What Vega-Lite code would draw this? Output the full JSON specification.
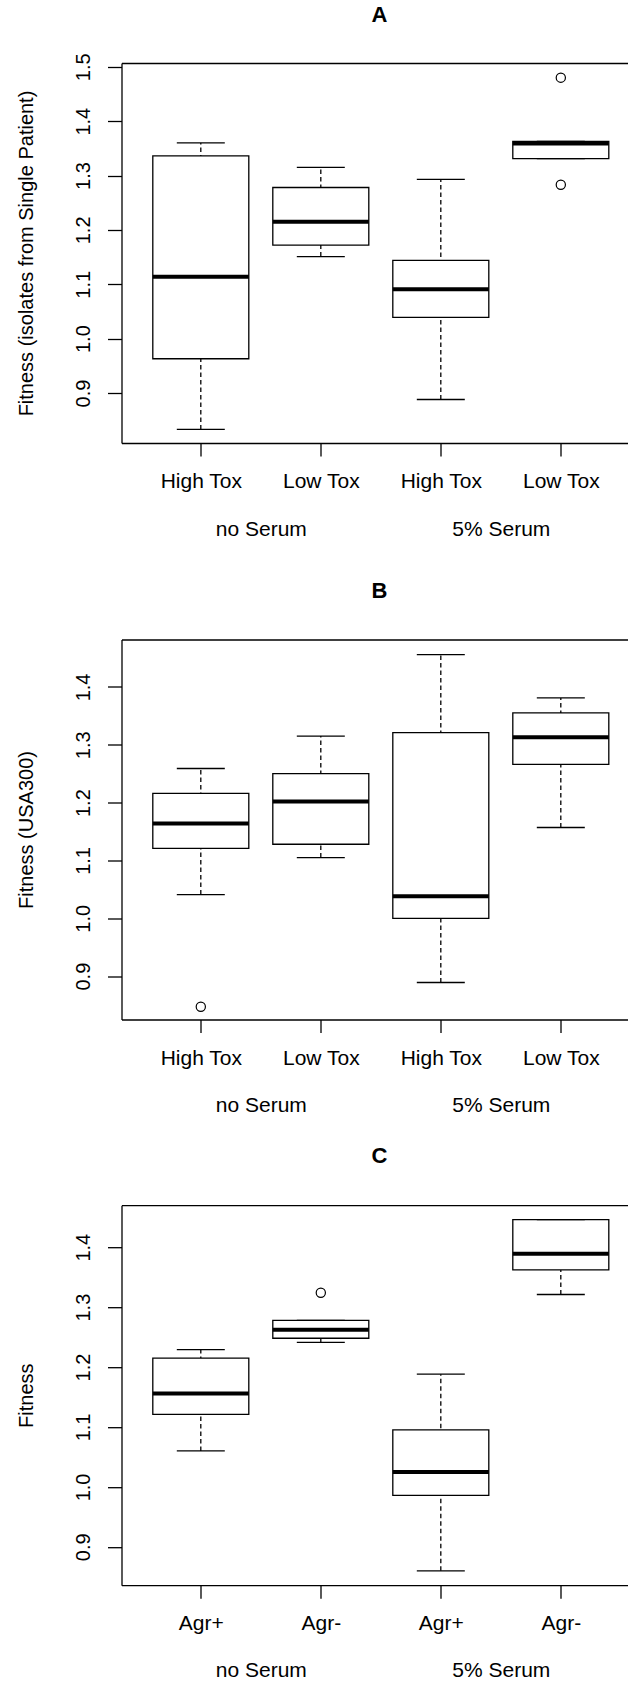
{
  "$schema": "https://vega.github.io/schema/vega-lite/v6.json",
  "padding": {"left": 15.5, "top": 4, "right": 0, "bottom": 98},
  "background": "white",
  "datasets": {
    "A_box": [
      {"serum": "no Serum", "key": "no Serum|High Tox", "lo": 0.833, "q1": 0.963, "med": 1.114, "q3": 1.336, "hi": 1.360},
      {"serum": "no Serum", "key": "no Serum|Low Tox", "lo": 1.151, "q1": 1.172, "med": 1.215, "q3": 1.278, "hi": 1.315},
      {"serum": "5% Serum", "key": "5% Serum|High Tox", "lo": 0.888, "q1": 1.039, "med": 1.091, "q3": 1.144, "hi": 1.293},
      {"serum": "5% Serum", "key": "5% Serum|Low Tox", "lo": 1.331, "q1": 1.331, "med": 1.359, "q3": 1.363, "hi": 1.363}
    ],
    "A_out": [
      {"key": "5% Serum|Low Tox", "value": 1.480},
      {"key": "5% Serum|Low Tox", "value": 1.283}
    ],
    "B_box": [
      {"serum": "no Serum", "key": "no Serum|High Tox", "lo": 1.041, "q1": 1.121, "med": 1.164, "q3": 1.216, "hi": 1.259},
      {"serum": "no Serum", "key": "no Serum|Low Tox", "lo": 1.105, "q1": 1.128, "med": 1.202, "q3": 1.250, "hi": 1.315},
      {"serum": "5% Serum", "key": "5% Serum|High Tox", "lo": 0.889, "q1": 1.000, "med": 1.038, "q3": 1.321, "hi": 1.456},
      {"serum": "5% Serum", "key": "5% Serum|Low Tox", "lo": 1.157, "q1": 1.266, "med": 1.313, "q3": 1.355, "hi": 1.381}
    ],
    "B_out": [
      {"key": "no Serum|High Tox", "value": 0.847}
    ],
    "C_box": [
      {"serum": "no Serum", "key": "no Serum|Agr+", "lo": 1.060, "q1": 1.121, "med": 1.156, "q3": 1.215, "hi": 1.229},
      {"serum": "no Serum", "key": "no Serum|Agr-", "lo": 1.241, "q1": 1.248, "med": 1.262, "q3": 1.278, "hi": 1.278},
      {"serum": "5% Serum", "key": "5% Serum|Agr+", "lo": 0.860, "q1": 0.986, "med": 1.025, "q3": 1.095, "hi": 1.188},
      {"serum": "5% Serum", "key": "5% Serum|Agr-", "lo": 1.321, "q1": 1.362, "med": 1.389, "q3": 1.446, "hi": 1.446}
    ],
    "C_out": [
      {"key": "no Serum|Agr-", "value": 1.324}
    ]
  },
  "spacing": 196.5,
  "bounds": "flush",
  "vconcat": [
    {
      "title": {"text": "A", "offset": 8.9, "baseline": "alphabetic", "frame": "group", "anchor": "middle", "dx": 5},
      "width": 506,
      "height": 380,
      "layer": [
        {
          "data": {"name": "A_box"},
          "encoding": {
            "x": {
              "field": "key", "type": "nominal",
              "scale": {"type": "point", "domain": ["no Serum|High Tox", "no Serum|Low Tox", "5% Serum|High Tox", "5% Serum|Low Tox"], "padding": 0.6083, "align": 0.5432},
              "axis": {"orient": "bottom", "title": null, "tickSize": 13, "labelPadding": 31.5, "labelBaseline": "alphabetic", "labelAngle": 0, "labelExpr": "split(datum.label, '|')[1]"}
            }
          },
          "layer": [
            {
              "mark": {"type": "rule", "color": "black", "strokeWidth": 1.3, "strokeDash": [4.5, 3]},
              "encoding": {
                "y": {
                  "field": "lo", "type": "quantitative",
                  "scale": {"domain": [0.808, 1.507], "zero": false, "nice": false},
                  "axis": {"orient": "left", "values": [0.9, 1.0, 1.1, 1.2, 1.3, 1.4, 1.5], "format": ".1f", "labelAngle": -90, "labelAlign": "center", "labelBaseline": "alphabetic", "labelPadding": 18.2, "tickSize": 14, "title": "Fitness (isolates from Single Patient)", "titleX": -89.2, "titleY": 190, "titleAngle": -90, "titleAlign": "center", "titleBaseline": "alphabetic"}
                },
                "y2": {"field": "hi"}
              }
            },
            {
              "mark": {"type": "bar", "size": 96, "fill": "white", "stroke": "black", "strokeWidth": 1.3},
              "encoding": {
                "y": {"field": "q1", "type": "quantitative"},
                "y2": {"field": "q3"}
              }
            },
            {
              "mark": {"type": "tick", "size": 96, "thickness": 4, "color": "black", "opacity": 1},
              "encoding": {"y": {"field": "med", "type": "quantitative"}}
            },
            {
              "mark": {"type": "tick", "size": 48, "thickness": 1.3, "color": "black", "opacity": 1},
              "encoding": {"y": {"field": "hi", "type": "quantitative"}}
            },
            {
              "mark": {"type": "tick", "size": 48, "thickness": 1.3, "color": "black", "opacity": 1},
              "encoding": {"y": {"field": "lo", "type": "quantitative"}}
            },
            {
              "data": {"name": "A_out"},
              "mark": {"type": "point", "shape": "circle", "filled": false, "size": 85, "stroke": "black", "strokeWidth": 1.2, "opacity": 1},
              "encoding": {"y": {"field": "value", "type": "quantitative"}}
            }
          ]
        },
        {
          "data": {"name": "A_box"},
          "mark": {"type": "point", "opacity": 0},
          "encoding": {
            "x": {
              "field": "serum", "type": "nominal",
              "scale": {"type": "point", "domain": ["no Serum", "5% Serum"], "padding": 0.5542, "align": 0.5237},
              "axis": {"orient": "bottom", "title": null, "domain": false, "ticks": false, "tickSize": 0, "labelPadding": 92.2, "labelBaseline": "alphabetic", "labelAngle": 0}
            },
            "y": {"field": "med", "type": "quantitative"}
          }
        },
        {
          "data": {"name": "A_box"},
          "mark": {"type": "point", "opacity": 0},
          "encoding": {
            "x": {
              "field": "serum", "type": "nominal",
              "scale": {"type": "point", "domain": ["no Serum", "5% Serum"]},
              "axis": {"orient": "top", "title": null, "domain": true, "ticks": false, "labels": false}
            },
            "y": {"field": "med", "type": "quantitative"}
          }
        }
      ],
      "resolve": {"scale": {"x": "independent"}, "axis": {"x": "independent"}}
    },
    {
      "spacing": 185.7,
      "bounds": "flush",
      "vconcat": [
        {
          "title": {"text": "B", "offset": 19.5, "baseline": "alphabetic", "frame": "group", "anchor": "middle", "dx": 5},
          "width": 506,
          "height": 380,
          "layer": [
            {
              "data": {"name": "B_box"},
              "encoding": {
                "x": {
                  "field": "key", "type": "nominal",
                  "scale": {"type": "point", "domain": ["no Serum|High Tox", "no Serum|Low Tox", "5% Serum|High Tox", "5% Serum|Low Tox"], "padding": 0.6083, "align": 0.5432},
                  "axis": {"orient": "bottom", "title": null, "tickSize": 13, "labelPadding": 31.5, "labelBaseline": "alphabetic", "labelAngle": 0, "labelExpr": "split(datum.label, '|')[1]"}
                }
              },
              "layer": [
                {
                  "mark": {"type": "rule", "color": "black", "strokeWidth": 1.3, "strokeDash": [4.5, 3]},
                  "encoding": {
                    "y": {
                      "field": "lo", "type": "quantitative",
                      "scale": {"domain": [0.825, 1.482], "zero": false, "nice": false},
                      "axis": {"orient": "left", "values": [0.9, 1.0, 1.1, 1.2, 1.3, 1.4], "format": ".1f", "labelAngle": -90, "labelAlign": "center", "labelBaseline": "alphabetic", "labelPadding": 18.2, "tickSize": 14, "title": "Fitness (USA300)", "titleX": -89.2, "titleY": 190, "titleAngle": -90, "titleAlign": "center", "titleBaseline": "alphabetic"}
                    },
                    "y2": {"field": "hi"}
                  }
                },
                {
                  "mark": {"type": "bar", "size": 96, "fill": "white", "stroke": "black", "strokeWidth": 1.3},
                  "encoding": {
                    "y": {"field": "q1", "type": "quantitative"},
                    "y2": {"field": "q3"}
                  }
                },
                {
                  "mark": {"type": "tick", "size": 96, "thickness": 4, "color": "black", "opacity": 1},
                  "encoding": {"y": {"field": "med", "type": "quantitative"}}
                },
                {
                  "mark": {"type": "tick", "size": 48, "thickness": 1.3, "color": "black", "opacity": 1},
                  "encoding": {"y": {"field": "hi", "type": "quantitative"}}
                },
                {
                  "mark": {"type": "tick", "size": 48, "thickness": 1.3, "color": "black", "opacity": 1},
                  "encoding": {"y": {"field": "lo", "type": "quantitative"}}
                },
                {
                  "data": {"name": "B_out"},
                  "mark": {"type": "point", "shape": "circle", "filled": false, "size": 85, "stroke": "black", "strokeWidth": 1.2, "opacity": 1},
                  "encoding": {"y": {"field": "value", "type": "quantitative"}}
                }
              ]
            },
            {
              "data": {"name": "B_box"},
              "mark": {"type": "point", "opacity": 0},
              "encoding": {
                "x": {
                  "field": "serum", "type": "nominal",
                  "scale": {"type": "point", "domain": ["no Serum", "5% Serum"], "padding": 0.5542, "align": 0.5237},
                  "axis": {"orient": "bottom", "title": null, "domain": false, "ticks": false, "tickSize": 0, "labelPadding": 92.2, "labelBaseline": "alphabetic", "labelAngle": 0}
                },
                "y": {"field": "med", "type": "quantitative"}
              }
            },
            {
              "data": {"name": "B_box"},
              "mark": {"type": "point", "opacity": 0},
              "encoding": {
                "x": {
                  "field": "serum", "type": "nominal",
                  "scale": {"type": "point", "domain": ["no Serum", "5% Serum"]},
                  "axis": {"orient": "top", "title": null, "domain": true, "ticks": false, "labels": false}
                },
                "y": {"field": "med", "type": "quantitative"}
              }
            }
          ],
          "resolve": {"scale": {"x": "independent"}, "axis": {"x": "independent"}}
        },
        {
          "title": {"text": "C", "offset": 20.2, "baseline": "alphabetic", "frame": "group", "anchor": "middle", "dx": 5},
          "width": 506,
          "height": 380,
          "layer": [
            {
              "data": {"name": "C_box"},
              "encoding": {
                "x": {
                  "field": "key", "type": "nominal",
                  "scale": {"type": "point", "domain": ["no Serum|Agr+", "no Serum|Agr-", "5% Serum|Agr+", "5% Serum|Agr-"], "padding": 0.6083, "align": 0.5432},
                  "axis": {"orient": "bottom", "title": null, "tickSize": 13, "labelPadding": 31.5, "labelBaseline": "alphabetic", "labelAngle": 0, "labelExpr": "split(datum.label, '|')[1]"}
                }
              },
              "layer": [
                {
                  "mark": {"type": "rule", "color": "black", "strokeWidth": 1.3, "strokeDash": [4.5, 3]},
                  "encoding": {
                    "y": {
                      "field": "lo", "type": "quantitative",
                      "scale": {"domain": [0.836, 1.470], "zero": false, "nice": false},
                      "axis": {"orient": "left", "values": [0.9, 1.0, 1.1, 1.2, 1.3, 1.4], "format": ".1f", "labelAngle": -90, "labelAlign": "center", "labelBaseline": "alphabetic", "labelPadding": 18.2, "tickSize": 14, "title": "Fitness", "titleX": -89.2, "titleY": 190, "titleAngle": -90, "titleAlign": "center", "titleBaseline": "alphabetic"}
                    },
                    "y2": {"field": "hi"}
                  }
                },
                {
                  "mark": {"type": "bar", "size": 96, "fill": "white", "stroke": "black", "strokeWidth": 1.3},
                  "encoding": {
                    "y": {"field": "q1", "type": "quantitative"},
                    "y2": {"field": "q3"}
                  }
                },
                {
                  "mark": {"type": "tick", "size": 96, "thickness": 4, "color": "black", "opacity": 1},
                  "encoding": {"y": {"field": "med", "type": "quantitative"}}
                },
                {
                  "mark": {"type": "tick", "size": 48, "thickness": 1.3, "color": "black", "opacity": 1},
                  "encoding": {"y": {"field": "hi", "type": "quantitative"}}
                },
                {
                  "mark": {"type": "tick", "size": 48, "thickness": 1.3, "color": "black", "opacity": 1},
                  "encoding": {"y": {"field": "lo", "type": "quantitative"}}
                },
                {
                  "data": {"name": "C_out"},
                  "mark": {"type": "point", "shape": "circle", "filled": false, "size": 85, "stroke": "black", "strokeWidth": 1.2, "opacity": 1},
                  "encoding": {"y": {"field": "value", "type": "quantitative"}}
                }
              ]
            },
            {
              "data": {"name": "C_box"},
              "mark": {"type": "point", "opacity": 0},
              "encoding": {
                "x": {
                  "field": "serum", "type": "nominal",
                  "scale": {"type": "point", "domain": ["no Serum", "5% Serum"], "padding": 0.5542, "align": 0.5237},
                  "axis": {"orient": "bottom", "title": null, "domain": false, "ticks": false, "tickSize": 0, "labelPadding": 91.7, "labelBaseline": "alphabetic", "labelAngle": 0}
                },
                "y": {"field": "med", "type": "quantitative"}
              }
            },
            {
              "data": {"name": "C_box"},
              "mark": {"type": "point", "opacity": 0},
              "encoding": {
                "x": {
                  "field": "serum", "type": "nominal",
                  "scale": {"type": "point", "domain": ["no Serum", "5% Serum"]},
                  "axis": {"orient": "top", "title": null, "domain": true, "ticks": false, "labels": false}
                },
                "y": {"field": "med", "type": "quantitative"}
              }
            }
          ],
          "resolve": {"scale": {"x": "independent"}, "axis": {"x": "independent"}}
        }
      ]
    }
  ],
  "config": {
    "font": "Liberation Sans",
    "view": {"stroke": null},
    "axis": {
      "grid": false,
      "domainColor": "black",
      "domainWidth": 1.3,
      "tickColor": "black",
      "tickWidth": 1.3,
      "labelColor": "black",
      "labelFont": "Liberation Sans",
      "labelFontSize": 20,
      "titleColor": "black",
      "titleFont": "Liberation Sans",
      "titleFontSize": 20,
      "titleFontWeight": "normal"
    },
    "axisX": {"labelFontSize": 21},
    "title": {"font": "Liberation Sans", "fontSize": 22, "fontWeight": "bold", "color": "black"}
  }
}
